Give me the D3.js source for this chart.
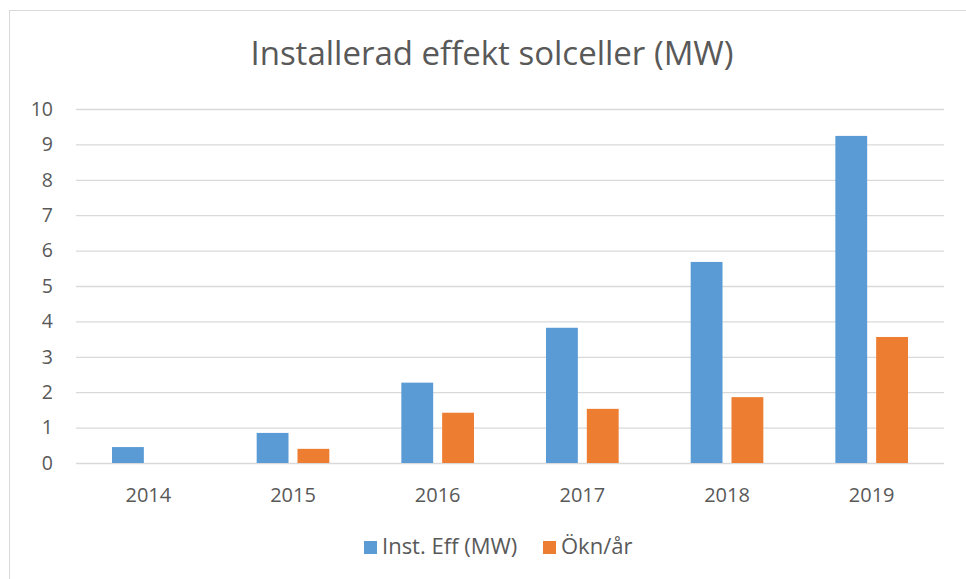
<!DOCTYPE html>
<html>
<head>
<meta charset="utf-8">
<script src="https://cdn.jsdelivr.net/npm/d3@7"></script>
<style>
  body { margin: 0; background: #fff; }
  text { font-family: "Open Sans", "Noto Sans", sans-serif; fill: #595959; }
</style>
</head>
<body>
<div class="chart"></div>
<script>
// data
var years = ["2014", "2015", "2016", "2017", "2018", "2019"];
var instEff = [0.45, 0.85, 2.27, 3.82, 5.68, 9.24];
var oknAr = [0, 0.40, 1.42, 1.53, 1.86, 3.56];
var seriesNames = ["Inst. Eff (MW)", "Ökn/år"];
var colors = ["#5B9BD5", "#ED7D31"];
var yTicks = [0, 1, 2, 3, 4, 5, 6, 7, 8, 9, 10];

var svgWidth = 966, svgHeight = 579;

var margin = { top: 109, bottom: 116, left: 76, right: 22 };
var width = svgWidth - margin.left - margin.right;
var height = svgHeight - margin.top - margin.bottom;

var svg = d3.select(".chart").append("svg")
  .attr("width", svgWidth)
  .attr("height", svgHeight);

// outer chart frame
svg.append("rect")
  .attr("x", 9.5).attr("y", 10.5)
  .attr("width", 980).attr("height", 600)
  .attr("fill", "none")
  .attr("stroke", "#D9D9D9");

var chartGroup = svg.append("g")
  .attr("transform", `translate(${margin.left}, ${margin.top})`);

var x0 = d3.scaleBand().domain(years).range([0, width]);
var x1 = d3.scaleBand().domain([0, 1]).range([36, x0.bandwidth() - 36]).paddingInner(0.22);
var y = d3.scaleLinear().domain([0, 10]).range([height, 0]);

// gridlines
var yAxis = d3.axisLeft(y).tickValues(yTicks).tickSize(-width).tickPadding(23);
var yG = chartGroup.append("g").call(yAxis);
yG.select(".domain").remove();
yG.selectAll(".tick line").attr("stroke", "#D9D9D9").attr("stroke-width", 1.3);
yG.selectAll(".tick text").attr("font-size", 19.5).style("fill", "#595959");

var xAxis = d3.axisBottom(x0).tickSize(0).tickPadding(25);
var xG = chartGroup.append("g").attr("transform", `translate(0, ${height})`).call(xAxis);
xG.select(".domain").remove();
xG.selectAll(".tick text").attr("font-size", 20).style("fill", "#595959");

var rows = years.map(function(yr, i) { return { year: yr, vals: [instEff[i], oknAr[i]] }; });

var groups = chartGroup.selectAll(".grp")
  .data(rows)
  .enter().append("g")
  .attr("transform", d => `translate(${x0(d.year)},0)`);

groups.selectAll("rect")
  .data(d => d.vals.map((v, k) => ({ k: k, v: v })).filter(e => e.v > 0))
  .enter().append("rect")
  .attr("x", d => x1(d.k))
  .attr("width", x1.bandwidth())
  .attr("y", d => y(d.v))
  .attr("height", d => y(0) - y(d.v))
  .attr("fill", d => colors[d.k]);

// title
svg.append("text")
  .attr("x", 492).attr("y", 65)
  .attr("text-anchor", "middle")
  .attr("font-size", 33)
  .text("Installerad effekt solceller (MW)");

// legend
var legendX = [364, 543];
seriesNames.forEach(function(name, i) {
  svg.append("rect")
    .attr("x", legendX[i]).attr("y", 541)
    .attr("width", 13).attr("height", 13)
    .attr("fill", colors[i]);
  svg.append("text")
    .attr("x", legendX[i] + 18).attr("y", 554)
    .attr("font-size", 22)
    .text(name);
});
</script>
</body>
</html>
